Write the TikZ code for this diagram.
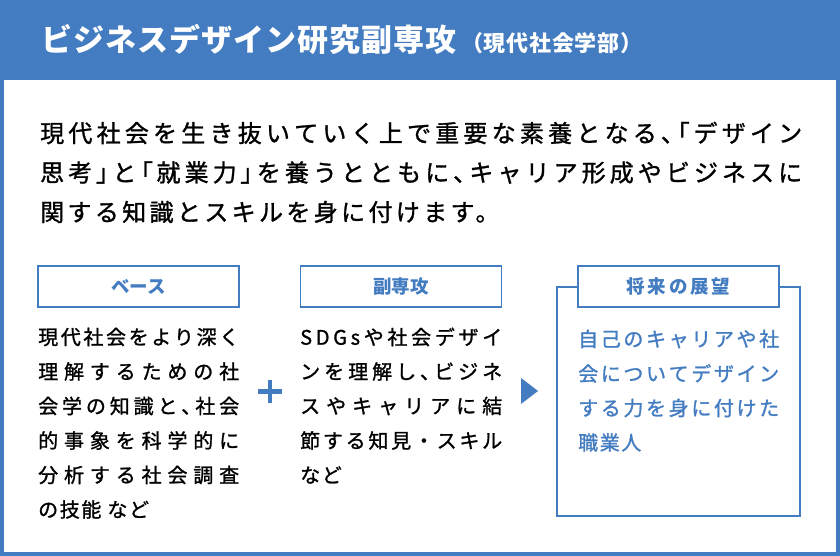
\documentclass[tikz,border=0pt]{standalone}
\usepackage{fontspec}
\newfontfamily\jp{Noto Sans CJK JP}
\newfontfamily\jpsp[LetterSpace=8,FakeBold=1.2]{Noto Sans CJK JP}
\newfontfamily\jplead[LetterSpace=14,FakeBold=1.2]{Noto Sans CJK JP}
\newfontfamily\jppalt[RawFeature=+palt,FakeBold=1.2]{Noto Sans CJK JP}
\definecolor{frameblue}{HTML}{437CC0}

% spread the characters of one line over a given width
\makeatletter
\newcommand\spreadline[2]{\hbox to #1{\expandafter\spread@first#2\relax}}
\def\spread@first#1{#1\spread@next}
\def\spread@next#1{\ifx#1\relax\else\hfill#1\expandafter\spread@next\fi}
\makeatother
% narrow punctuation
\newcommand\tc{{\jppalt 、}}
\newcommand\ob{{\jppalt 「}}
\newcommand\cb{{\jppalt 」}}

\begin{document}
\begin{tikzpicture}[x=1pt,y=-1pt,
  lbl/.style={draw=frameblue,line width=1.6pt,fill=white,minimum width=201pt,minimum height=41pt,
    inner sep=0pt,text=frameblue,font=\jp\bfseries\fontsize{18.5}{18.5}\selectfont},
  body/.style={anchor=west,inner sep=0pt,font=\jpsp\fontsize{20}{20}\selectfont},
  lead/.style={anchor=west,inner sep=0pt,font=\jplead\fontsize{24}{24}\selectfont}]
\useasboundingbox (0,0) rectangle (840,556);
% frame and header
\fill[frameblue] (0,0) rectangle (840,556);
\fill[white] (4,80) rectangle (836,552);
\node[anchor=west,inner sep=0pt,text=white,font=\jp\bfseries\fontsize{31}{31}\selectfont] (title) at (41,40)
  {\spreadline{415pt}{ビジネスデザイン研究副専攻}};
\node[anchor=west,inner sep=0pt,text=white,font=\jp\bfseries\fontsize{22}{22}\selectfont] (subtitle) at (461,43)
  {\spreadline{181pt}{（現代社会学部）}};
% lead text
\node[lead] (lead1) at (40,133)
  {\spreadline{762pt}{現代社会を生き抜いていく上で重要な素養となる\tc\ob デザイン}};
\node[lead] (lead2) at (40,172.5)
  {\spreadline{762pt}{思考\cb と\ob 就業力\cb を養うとともに\tc キャリア形成やビジネスに}};
\node[lead] (lead3) at (40,212)
  {関する知識とスキルを身に付けます。};
% base
\node[lbl] (base) at (138.5,286.5) {ベース};
\foreach \txt [count=\i] in {現代社会をより深く,理解するための社,会学の知識と\tc 社会,的事象を科学的に,分析する社会調査}
  \node[body] (base\i) at (38,302.5+34.5*\i) {\spreadline{201pt}{\txt}};
\node[body] (base6) at (38,509.5) {の技能 など};
% minor
\node[lbl] (minor) at (401,286.5) {副専攻};
\foreach \txt [count=\i] in {SDGsや社会デザイ,ンを理解し\tc ビジネ,スやキャリアに結,節する知見・スキル}
  \node[body] (minor\i) at (300,302.5+34.5*\i) {\spreadline{202pt}{\txt}};
\node[body] (minor5) at (300,475) {など};
% plus and arrow
\draw[frameblue,line width=4.8pt] (258,391.5)--(282,391.5) (270,380)--(270,403);
\fill[frameblue] (521,378)--(538,391)--(521,404)--cycle;
% future
\draw[frameblue,line width=1.6pt] (557,287) rectangle (800,516);
\node[lbl] (future) at (678.5,286.5) {\spreadline{104pt}{将来の展望}};
\foreach \txt [count=\i] in {自己のキャリアや社,会についてデザイン,する力を身に付けた}
  \node[body,text=frameblue] (future\i) at (578,304.5+34.5*\i) {\spreadline{201pt}{\txt}};
\node[body,text=frameblue] (future4) at (578,442.5) {職業人};
\end{tikzpicture}
\end{document}
